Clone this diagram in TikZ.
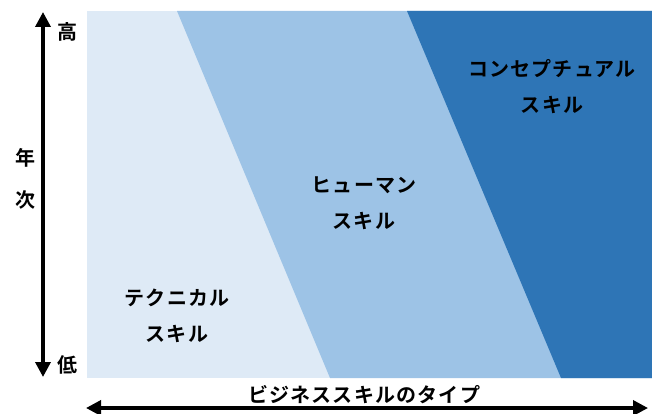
\documentclass[tikz,border=0pt]{standalone}
\usepackage{fontspec}
\setmainfont{Noto Sans CJK JP}[BoldFont={* Bold}, LetterSpace=6]
\usetikzlibrary{arrows.meta}
\definecolor{lightb}{HTML}{DEEAF6}
\definecolor{midb}{HTML}{9DC3E6}
\definecolor{darkb}{HTML}{2E75B6}
\tikzset{
  lbl/.style={font=\fontsize{20}{36}\selectfont\bfseries, align=center, text=black, inner sep=0pt},
  axis/.style={line width=3.5pt, -{Triangle[length=15pt,width=15pt]}}
}
\begin{document}
\begin{tikzpicture}[x=1pt,y=-1pt]
\useasboundingbox (0,0) rectangle (652,414);
% regions
\fill[lightb] (87,11) rectangle (652,378);
\fill[midb] (177,11) -- (652,11) -- (652,378) -- (330,378) -- cycle;
\fill[darkb] (407,11) -- (652,11) -- (652,378) -- (561,378) -- cycle;
% axes
\coordinate (vmid) at (43,195);
\coordinate (vtop) at (43,12);
\coordinate (vbot) at (43,377);
\draw[axis] (vmid) -- (vtop);
\draw[axis] (vmid) -- (vbot);
\coordinate (hmid) at (367,408);
\coordinate (hl) at (86,408);
\coordinate (hr) at (648,408);
\draw[axis] (hmid) -- (hl);
\draw[axis] (hmid) -- (hr);
% labels
\node[lbl] (hi) at (67,32) {高};
\node[lbl] (lo) at (67,365) {低};
\node[lbl] (nen) at (25,158) {年};
\node[lbl] (ji) at (25,200) {次};
\node[lbl] (xl) at (364,395) {ビジネススキルのタイプ};
\node[lbl] (tech) at (177,316) {テクニカル\\スキル};
\node[lbl] (hum) at (364,203) {ヒューマン\\スキル};
\node[lbl] (conc) at (552,87) {コンセプチュアル\\スキル};
\end{tikzpicture}
\end{document}
